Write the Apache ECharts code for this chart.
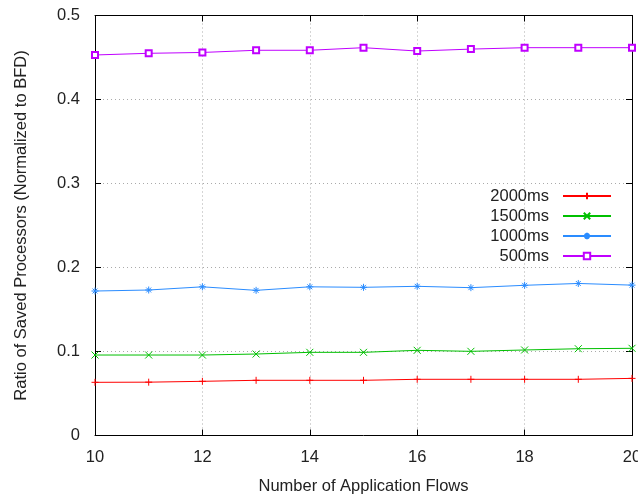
<!DOCTYPE html>
<html>
<head>
<meta charset="utf-8">
<script src="https://cdn.jsdelivr.net/npm/echarts@6/dist/echarts.min.js"></script>
<style>html,body{margin:0;padding:0;background:#fff}#c{width:638px;height:496px}</style>
</head>
<body>
<div id="c"></div>
<script>
var flows = [10, 11, 12, 13, 14, 15, 16, 17, 18, 19, 20];
var s2000 = [0.0633, 0.0635, 0.0645, 0.0657, 0.0657, 0.0657, 0.0669, 0.0669, 0.0669, 0.0669, 0.068];
var s1500 = [0.0958, 0.0958, 0.0958, 0.097, 0.099, 0.099, 0.1014, 0.1002, 0.1018, 0.1033, 0.1038];
var s1000 = [0.172, 0.1732, 0.177, 0.1728, 0.177, 0.1764, 0.1776, 0.176, 0.1788, 0.181, 0.179];
var s500 = [0.453, 0.455, 0.456, 0.4586, 0.4586, 0.4617, 0.4577, 0.460, 0.4617, 0.4617, 0.4617];
var seriesNames = ['2000ms', '1500ms', '1000ms', '500ms'];
var yTicks = ['0', '0.1', '0.2', '0.3', '0.4', '0.5'];

function pairs(v) { return flows.map(function (x, i) { return [x, v[i]]; }); }

var FONT = 'Liberation Sans';
var FS = 16.5;
var TXT = '#222';
var colors = ['#ff0000', '#00c000', '#2a8cff', '#c000ff'];
var symbols = [
  'path://M0,-1 L0,1 M-1,0 L1,0',
  'path://M-1,-1 L1,1 M-1,1 L1,-1',
  'path://M0,-1 L0,1 M-1,0 L1,0 M-0.7,-0.7 L0.7,0.7 M-0.7,0.7 L0.7,-0.7',
  'emptyRect'
];
var sizes = [7, 7, 7, 6];
var data = [s2000, s1500, s1000, s500];

var series = data.map(function (v, i) {
  return {
    name: seriesNames[i],
    type: 'line',
    data: pairs(v),
    symbol: symbols[i],
    symbolSize: sizes[i],
    showAllSymbol: true,
    color: colors[i],
    lineStyle: { color: colors[i], width: 1 },
    itemStyle: { color: colors[i], borderColor: colors[i], borderWidth: 1 },
    emphasis: { disabled: true },
    animation: false
  };
});

var gridLine = { show: true, showMinLine: false, showMaxLine: false, lineStyle: { color: '#aaaaaa', type: [1, 3], width: 1 } };

var chart = echarts.init(document.getElementById('c'), null, { renderer: 'canvas' });
chart.setOption({
  backgroundColor: '#ffffff',
  animation: false,
  grid: { left: 95, right: 6, top: 15.5, bottom: 60.5, containLabel: false, outerBoundsMode: 'none' },
  legend: {
    orient: 'vertical',
    right: 21,
    top: 182,
    align: 'right',
    itemWidth: 48,
    itemHeight: 8,
    itemGap: 2,
    selectedMode: false,
    data: seriesNames,
    textStyle: { fontFamily: FONT, fontSize: FS, lineHeight: 18, color: TXT, padding: [0, 9, 0, 0] }
  },
  xAxis: [{
    type: 'value', min: 10, max: 20, interval: 2,
    name: 'Number of Application Flows', nameLocation: 'middle', nameGap: 42,
    nameTextStyle: { fontFamily: FONT, fontSize: FS, color: TXT },
    axisLine: { show: true, onZero: false, lineStyle: { color: '#000', width: 1 } },
    axisTick: { show: true, inside: true, length: 6, lineStyle: { color: '#000' } },
    axisLabel: { fontFamily: FONT, fontSize: FS, color: TXT, margin: 13 },
    splitLine: gridLine
  }, {
    type: 'value', min: 10, max: 20, interval: 2, position: 'top',
    axisLine: { show: true, onZero: false, lineStyle: { color: '#000', width: 1 } },
    axisTick: { show: true, inside: true, length: 6, lineStyle: { color: '#000' } },
    axisLabel: { show: false }, splitLine: { show: false }
  }],
  yAxis: [{
    type: 'value', min: 0, max: 0.5, interval: 0.1,
    name: 'Ratio of Saved Processors (Normalized to BFD)', nameLocation: 'middle', nameGap: 65,
    nameTextStyle: { fontFamily: FONT, fontSize: FS, color: TXT },
    axisLine: { show: true, onZero: false, lineStyle: { color: '#000', width: 1 } },
    axisTick: { show: true, inside: true, length: 6, lineStyle: { color: '#000' } },
    axisLabel: { fontFamily: FONT, fontSize: FS, color: TXT, margin: 15,
      formatter: function (v) { return yTicks[Math.round(v * 10)]; } },
    splitLine: gridLine
  }, {
    type: 'value', min: 0, max: 0.5, interval: 0.1, position: 'right',
    axisLine: { show: true, onZero: false, lineStyle: { color: '#000', width: 1 } },
    axisTick: { show: true, inside: true, length: 6, lineStyle: { color: '#000' } },
    axisLabel: { show: false }, splitLine: { show: false }
  }],
  series: series
});
</script>
</body>
</html>
